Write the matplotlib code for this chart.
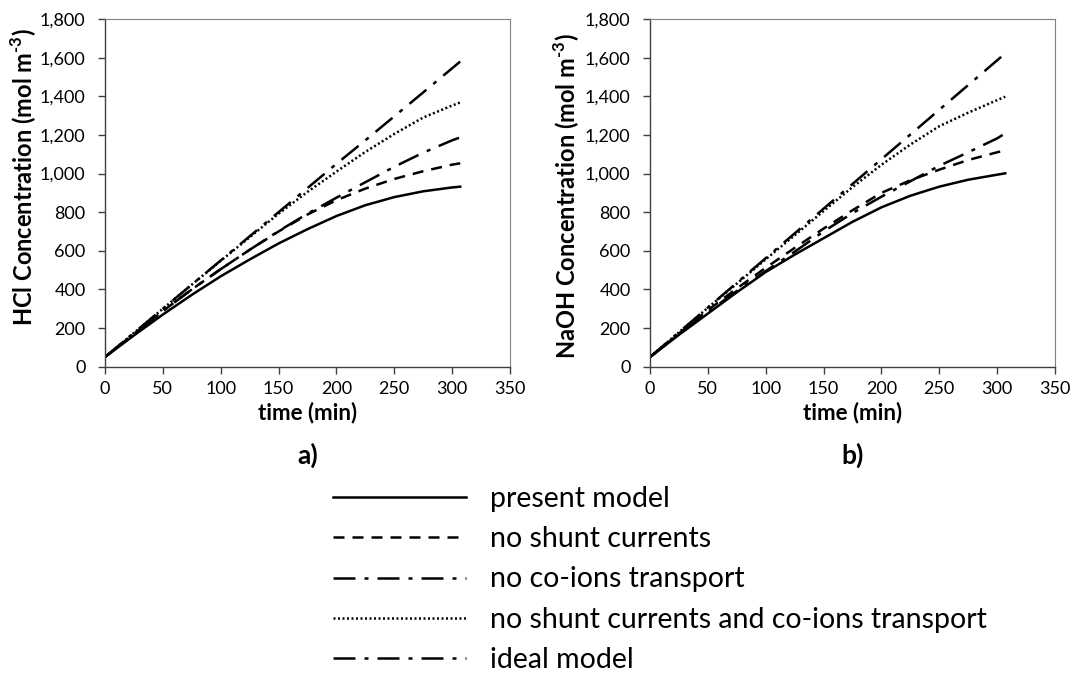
import matplotlib
matplotlib.use("Agg")
import matplotlib.pyplot as plt
from matplotlib.ticker import FuncFormatter, MultipleLocator

plt.rcParams["font.family"] = ["Lato", "DejaVu Sans"]
plt.rcParams["mathtext.fontset"] = "custom"
plt.rcParams["mathtext.rm"] = "Lato:bold"
plt.rcParams["mathtext.bf"] = "Lato:bold"

# time points (min)
time = [0, 25, 50, 75, 100, 125, 150, 175, 200, 225, 250, 275, 300, 307]

# a) HCl concentration (mol m-3)
hcl_present = [50, 162, 270, 372, 468, 555, 638, 712, 780, 836, 878, 908, 928, 932]
hcl_no_shunt = [50, 170, 288, 400, 505, 605, 700, 788, 862, 922, 972, 1012, 1046, 1053]
hcl_no_coions = [50, 170, 288, 400, 505, 605, 702, 792, 875, 955, 1035, 1108, 1172, 1187]
hcl_no_both = [50, 175, 300, 425, 548, 670, 792, 905, 1010, 1112, 1205, 1290, 1352, 1368]
hcl_ideal = [50, 175, 300, 425, 550, 675, 800, 925, 1050, 1172, 1296, 1420, 1545, 1580]

# b) NaOH concentration (mol m-3)
naoh_present = [50, 165, 275, 385, 490, 580, 665, 750, 825, 885, 932, 968, 994, 1001]
naoh_no_shunt = [50, 172, 292, 405, 512, 615, 715, 810, 900, 965, 1020, 1070, 1110, 1120]
naoh_no_coions = [50, 168, 283, 392, 495, 595, 700, 795, 880, 960, 1040, 1110, 1182, 1208]
naoh_no_both = [50, 178, 305, 430, 556, 680, 806, 930, 1045, 1150, 1245, 1315, 1380, 1398]
naoh_ideal = [50, 178, 306, 434, 562, 690, 818, 946, 1074, 1202, 1330, 1458, 1586, 1622]

labels = ["present model", "no shunt currents", "no co-ions transport",
          "no shunt currents and co-ions transport", "ideal model"]

styles = [
    "-",
    (0, (4.4, 3.2)),
    (0, (8.8, 3.6, 1.6, 3.6)),
    (0, (0.8, 1.0)),
    (0, (8.8, 3.6, 1.6, 3.6)),
]

fig = plt.figure(figsize=(10.72, 6.73), dpi=100)
ax1 = fig.add_axes([105 / 1072, 1 - 366.7 / 673, 405 / 1072, 347.7 / 673])
ax2 = fig.add_axes([650 / 1072, 1 - 366.7 / 673, 405 / 1072, 347.7 / 673])

panels = [
    (ax1, [hcl_present, hcl_no_shunt, hcl_no_coions, hcl_no_both, hcl_ideal],
     "HCl Concentration (mol m$^{\\text{-3}}$)", "a)", (-0.164, 0.545)),
    (ax2, [naoh_present, naoh_no_shunt, naoh_no_coions, naoh_no_both, naoh_ideal],
     "NaOH Concentration (mol m$^{\\text{-3}}$)", "b)", (-0.168, 0.49)),
]

handles = []
for ax, series, ylab, tag, ypos in panels:
    lines = []
    for vals, ls, lab in zip(series, styles, labels):
        ln, = ax.plot(time, vals, color="black", lw=1.8, linestyle=ls, label=lab)
        lines.append(ln)
    handles = lines

    ax.set_xlim(0, 350)
    ax.set_ylim(0, 1800)
    ax.xaxis.set_major_locator(MultipleLocator(50))
    ax.yaxis.set_major_locator(MultipleLocator(200))
    ax.yaxis.set_major_formatter(FuncFormatter(lambda v, p: f"{v:,.0f}"))
    ax.tick_params(direction="out", length=5, width=1, color="#404040", labelsize=13)
    ax.tick_params(axis="x", pad=5)
    ax.tick_params(axis="y", pad=9)
    for side in ["left", "bottom"]:
        ax.spines[side].set_color("#404040")
        ax.spines[side].set_linewidth(1.0)
    for side in ["top", "right"]:
        ax.spines[side].set_color("#808080")
        ax.spines[side].set_linewidth(0.8)

    ax.set_ylabel(ylab, fontsize=17, fontweight="bold")
    ax.yaxis.set_label_coords(*ypos)
    ax.set_xlabel("time (min)", fontsize=16, fontweight="bold", labelpad=4)
    ax.text(0.5, -0.254, tag, transform=ax.transAxes, ha="center", va="center",
            fontsize=19, fontweight="bold")

fig.legend(handles, labels, loc="upper left", bbox_to_anchor=(333 / 1072, 1 - 486 / 673),
           frameon=False, fontsize=20.5, handlelength=4.67, handletextpad=0.84,
           labelspacing=0.5, borderpad=0, borderaxespad=0)

fig.savefig("out.png", dpi=100)
